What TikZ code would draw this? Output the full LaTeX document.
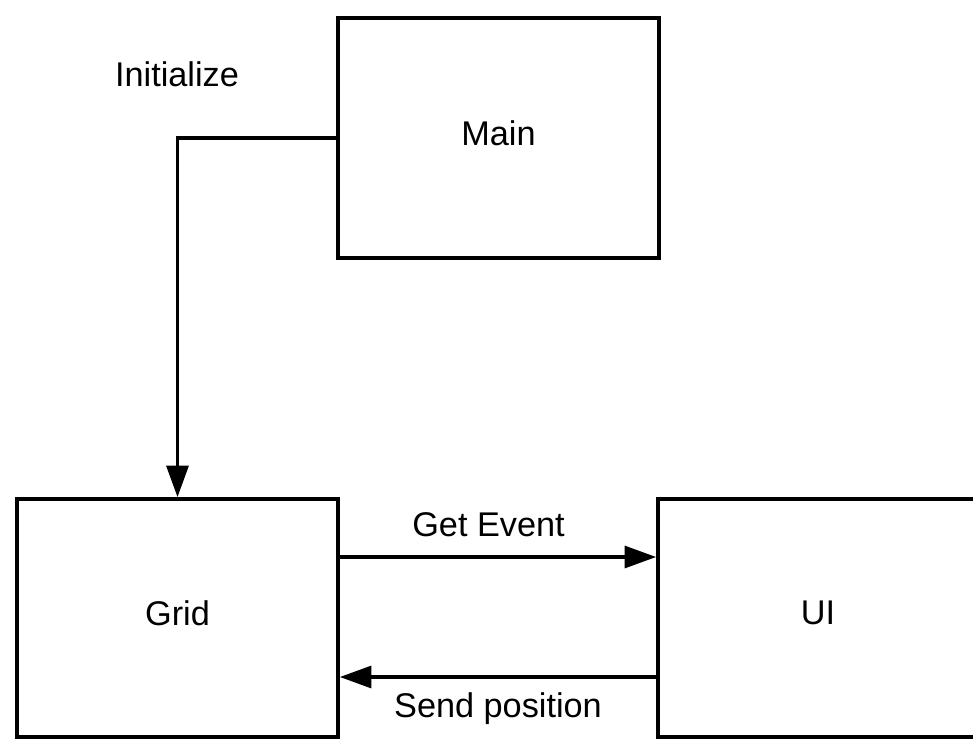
\documentclass[tikz,border=0pt]{standalone}
\usepackage{fontspec}
\setmainfont{Liberation Sans}
\usetikzlibrary{arrows.meta,positioning,calc}
\tikzset{flowbox/.style={draw=black,line width=2.1pt,fill=white,minimum width=6.42cm,minimum height=4.8cm,text depth=0.2cm,font=\fontsize{19.5}{23}\selectfont},flowarr/.style={-{Triangle[length=18pt,width=12.5pt]},line width=2pt},flowlabel/.style={font=\fontsize{19.5}{23}\selectfont,inner sep=2pt}}
\begin{document}
\begin{tikzpicture}
\useasboundingbox[fill=white] (0,0) rectangle (19.46,-14.78);
\node[flowbox] (main) at (9.97,-2.76) {Main};
\node[flowbox,minimum height=4.76cm] (grid) at (3.55,-12.36) {Grid};
\node[flowbox,minimum height=4.76cm,minimum width=6.4cm] (ui) at (16.36,-12.36) {UI};
\node[flowlabel] (init) at (3.54,-1.48) {Initialize};
\draw[flowarr] (main.west) -| (grid.north);
\draw[flowarr] ([yshift=1.22cm]grid.east) -- node[flowlabel,above=0.3cm,pos=0.47]{Get Event} ([yshift=1.22cm]ui.west);
\draw[flowarr] ([yshift=-1.18cm]ui.west) -- node[flowlabel,below=0.2cm]{Send position} ([yshift=-1.18cm]grid.east);
\end{tikzpicture}
\end{document}
